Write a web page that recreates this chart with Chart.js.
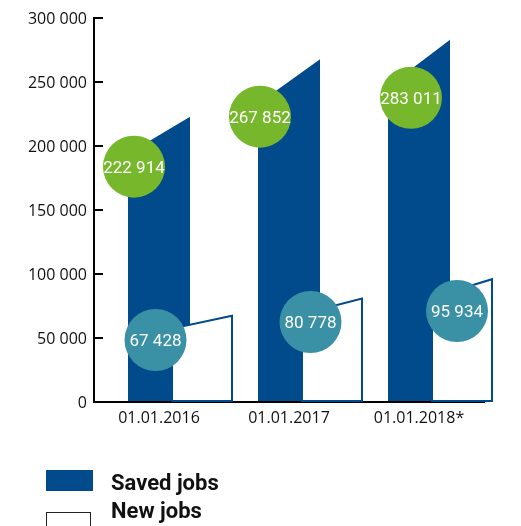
<!DOCTYPE html>
<html>
<head>
<meta charset="utf-8">
<script src="https://cdn.jsdelivr.net/npm/chart.js@4"></script>
<style>
  html, body { margin: 0; padding: 0; background: #fff; }
</style>
</head>
<body>
<canvas id="myChart" width="521" height="526"></canvas>
<script>
// chart data
var categories = ["01.01.2016", "01.01.2017", "01.01.2018*"];
var savedJobs = [222914, 267852, 283011];
var newJobs = [67428, 80778, 95934];
var yTicks = [0, 50000, 100000, 150000, 200000, 250000, 300000];
var seriesNames = ["Saved jobs", "New jobs"];

var blue = '#014a8b',
    green = '#77b72b',
    teal = '#3a90a4';

function fmt(v) {
    return String(v).replace(/\B(?=(\d{3})+(?!\d))/g, ' ');
}

// slanted bars + round value labels
var slantedBars = {
    id: 'slantedBars',
    afterDatasetsDraw: function(chart, args, opts) {
        var ctx = chart.ctx, y = chart.scales.y;
        var saved = chart.getDatasetMeta(0).data,
            added = chart.getDatasetMeta(1).data;
        ctx.save();

        saved.forEach(function(bar, i) {
            var x0 = bar.x - 31, x1 = bar.x + 31;
            ctx.beginPath();
            ctx.moveTo(x0, bar.base);
            ctx.lineTo(x0, y.getPixelForValue(savedJobs[i] * 0.87));
            ctx.lineTo(x1, bar.y);
            ctx.lineTo(x1, bar.base);
            ctx.closePath();
            ctx.fillStyle = blue;
            ctx.fill();
        });

        added.forEach(function(bar, i) {
            var x0 = bar.x + 13, x1 = bar.x + 73;
            ctx.beginPath();
            ctx.moveTo(x0, bar.base);
            ctx.lineTo(x0, y.getPixelForValue(newJobs[i] * 0.85));
            ctx.lineTo(x1, bar.y);
            ctx.lineTo(x1, bar.base);
            ctx.closePath();
            ctx.fillStyle = '#fff';
            ctx.fill();
            ctx.strokeStyle = blue;
            ctx.lineWidth = 2;
            ctx.stroke();
        });

        function bubble(bar, off, color, value) {
            var cx = bar.x + off[0], cy = bar.y + off[1];
            ctx.beginPath();
            ctx.arc(cx, cy, 31, 0, Math.PI * 2);
            ctx.fillStyle = color;
            ctx.fill();
            ctx.fillStyle = '#fff';
            ctx.font = '17px Roboto';
            ctx.textAlign = 'center';
            ctx.textBaseline = 'alphabetic';
            ctx.fillText(fmt(value), cx, cy + 6);
        }
        saved.forEach(function(bar, i) { bubble(bar, opts.savedOffsets[i], green, savedJobs[i]); });
        added.forEach(function(bar, i) { bubble(bar, opts.newOffsets[i], teal, newJobs[i]); });

        ctx.restore();
    },
    afterDraw: function(chart) {
        // legend
        var ctx = chart.ctx;
        ctx.save();
        ctx.fillStyle = blue;
        ctx.fillRect(46, 470, 47, 21);
        ctx.fillStyle = '#fff';
        ctx.fillRect(47, 513, 44, 21);
        ctx.strokeStyle = '#222';
        ctx.lineWidth = 1;
        ctx.strokeRect(46.5, 512.5, 44, 21);
        ctx.fillStyle = '#111';
        ctx.font = 'bold 22px Roboto';
        ctx.textAlign = 'left';
        ctx.textBaseline = 'alphabetic';
        ctx.fillText(seriesNames[0], 111, 490);
        ctx.fillText(seriesNames[1], 111, 517.5);
        ctx.restore();
    }
};

var ctx = document.getElementById('myChart').getContext('2d');

var myChart = new Chart(ctx, {
    type: 'bar',
    data: {
        labels: categories,
        datasets: [{
            label: seriesNames[0],
            data: savedJobs,
            backgroundColor: 'rgba(0,0,0,0)',
            borderWidth: 0
        }, {
            label: seriesNames[1],
            data: newJobs,
            backgroundColor: 'rgba(0,0,0,0)',
            borderWidth: 0
        }]
    },
    plugins: [slantedBars],
    options: {
        responsive: false,
        animation: false,
        layout: { padding: { top: 18, right: 37, bottom: 94, left: 0 } },
        datasets: { bar: { grouped: false } },
        plugins: {
            legend: { display: false },
            tooltip: { enabled: false },
            slantedBars: {
                savedOffsets: [[-25, 50], [-29, 57.5], [-8, 58]],
                newOffsets: [[-3.5, 24.3], [21.5, 23.4], [38, 31.8]]
            }
        },
        scales: {
            x: {
                afterFit: function(scale) { scale.height = 30; },
                grid: { display: false },
                border: { display: true, color: '#000', width: 2 },
                ticks: {
                    padding: -1,
                    color: '#111',
                    font: { family: 'Open Sans', size: 16 }
                }
            },
            y: {
                min: 0,
                max: 300000,
                afterFit: function(scale) {
                    scale.width = 94;
                    scale.paddingTop = 0;
                    scale.paddingBottom = 0;
                },
                afterBuildTicks: function(scale) {
                    scale.ticks = yTicks.map(function(v) { return { value: v }; });
                },
                grid: {
                    display: true,
                    drawOnChartArea: false,
                    drawTicks: true,
                    tickLength: -9,
                    color: '#000',
                    lineWidth: 2
                },
                border: { display: true, color: '#000', width: 2 },
                ticks: {
                    padding: 16,
                    labelOffset: 1.5,
                    color: '#111',
                    font: { family: 'Open Sans', size: 16 },
                    callback: function(v) { return fmt(v); }
                }
            }
        }
    }
});
</script>
</body>
</html>
